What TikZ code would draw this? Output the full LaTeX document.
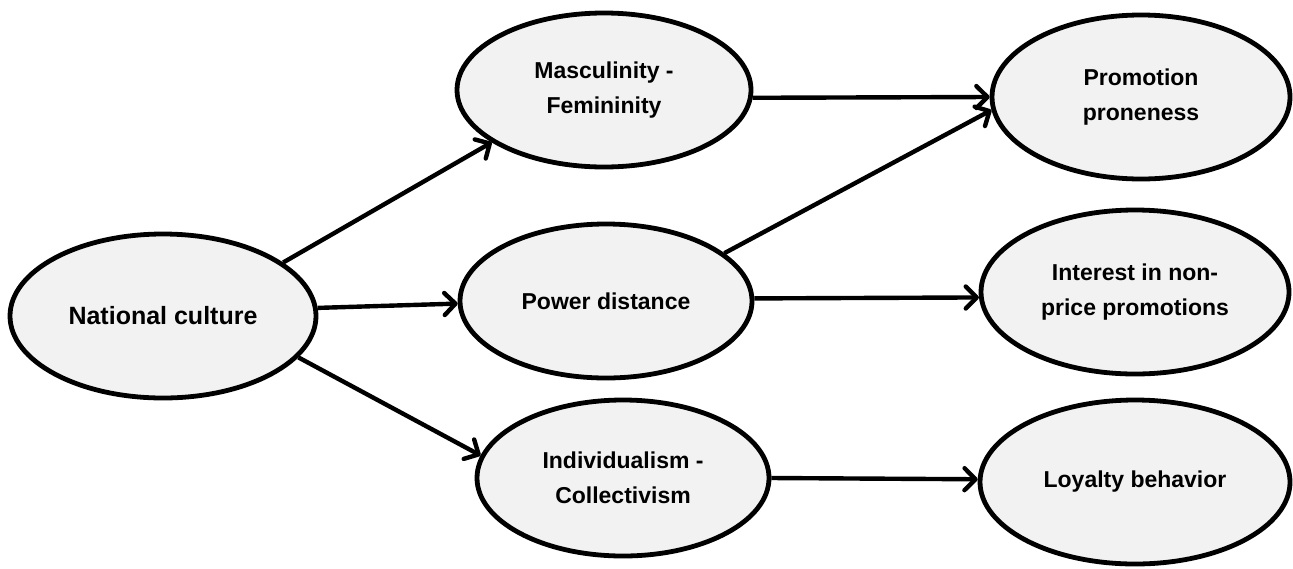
\documentclass[tikz,border=0pt]{standalone}
\usepackage{fontspec}
\setmainfont{Liberation Sans}
\usepackage{tikz}
\usetikzlibrary{arrows.meta,shapes.geometric}

\begin{document}
\begin{tikzpicture}[x=0.5pt, y=-0.5pt,
        oval/.style={ellipse, draw=black, line width=2.4pt, fill=black!5, align=center, inner sep=0pt,
            font={\fontsize{11.5}{17.5}\selectfont\bfseries}},
        link/.style={line width=2.2pt, -{Straight Barb[length=5.5pt, width=11pt, round]}}]
        \useasboundingbox (0, 0) rectangle (1293, 568);
        \node[oval, minimum width=153pt, minimum height=82pt, font = {\fontsize{12.5}{18}\selectfont\bfseries}] (nat) at (163, 316) {National culture};
        \node[oval, minimum width=147pt, minimum height=77pt] (masc) at (604, 90) {Masculinity -\\Femininity};
        \node[oval, minimum width=146pt, minimum height=77pt] (power) at (606, 301) {Power distance};
        \node[oval, minimum width=146pt, minimum height=78pt] (indiv) at (623, 478) {Individualism -\\Collectivism};
        \node[oval, minimum width=149pt, minimum height=82pt] (promo) at (1141, 97) {Promotion\\proneness};
        \node[oval, minimum width=154pt, minimum height=82pt] (interest) at (1135, 292) {Interest in non-\\price promotions};
        \node[oval, minimum width=155pt, minimum height=82pt] (loyal) at (1135, 482) {Loyalty behavior};
        \draw[link] (nat.24) -- (masc.205);
        \draw[link] (nat.3) -- (power.181);
        \draw[link] (nat.343) -- (indiv.171);
        \draw[link] (masc.357) -- (promo.180);
        \draw[link] (power.22) -- (promo.185);
        \draw[link] (power.1) -- (interest.182);
        \draw[link] (indiv.east) -- (loyal.179);
\end{tikzpicture}
\end{document}
